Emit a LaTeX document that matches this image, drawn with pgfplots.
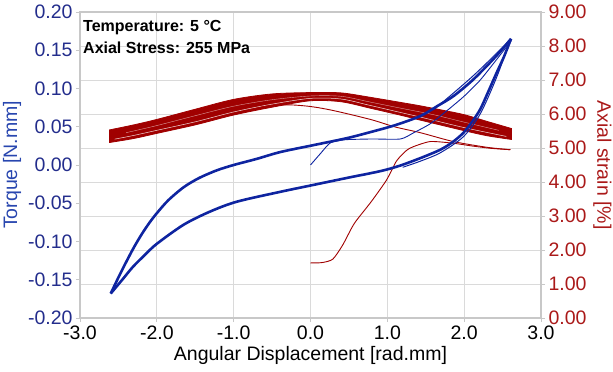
\documentclass[border=0pt]{standalone}
\usepackage{fontspec}
\setmainfont{Liberation Sans}
\usepackage{pgfplots}
\usepgfplotslibrary{fillbetween}
\pgfplotsset{compat=1.18}
\definecolor{cblue}{RGB}{14,36,160}
\definecolor{tblue}{RGB}{35,45,140}
\definecolor{lblue}{RGB}{40,70,175}
\definecolor{cred}{RGB}{160,0,0}
\definecolor{tred}{RGB}{170,25,25}
\definecolor{gridc}{RGB}{218,218,218}
\definecolor{spine}{RGB}{200,200,200}
\begin{document}
\begin{tikzpicture}
\pgfplotsset{
  base/.style={
    scale only axis, width=461pt, height=306pt,
    xmin=-3, xmax=3,
    font=\fontsize{19.5}{22}\selectfont,
    /pgf/number format/assume math mode=true,
    tick align=outside, major tick length=4pt,
    every tick/.style={spine, line width=0.8pt},
    axis line style={spine, line width=1.6pt},
    line join=round,
  }
}
% ---------- right axis (axial strain), grid, x axis ----------
\begin{axis}[base,
  ymin=0, ymax=9, ytick={0,1,...,9},
  xtick={-3,-2,...,3},
  xtick pos=bottom, ytick pos=right, yticklabel pos=right,
  grid=major, major grid style={gridc, line width=0.7pt},
  xticklabel style={black, /pgf/number format/.cd, fixed, fixed zerofill, precision=1},
  yticklabel style={tred, /pgf/number format/.cd, fixed, fixed zerofill, precision=2},
  xlabel={Angular Displacement [rad.mm]},
  ylabel={Axial strain [\%]}, ylabel near ticks,
  ylabel style={tred, rotate=180},
]
% band of cycles: upper and lower edges
\addplot[name path=U, cred, line width=0.8pt, smooth] coordinates {
(-2.62,5.53) (-2.30,5.68) (-2.00,5.84) (-1.50,6.14) (-1.00,6.43) (-0.50,6.59)
(0.00,6.63) (0.40,6.62) (0.78,6.49) (1.20,6.33) (1.43,6.24) (1.70,6.12)
(2.00,5.98) (2.30,5.78) (2.62,5.57)
};
\addplot[name path=L, cred, line width=0.8pt, smooth] coordinates {
(-2.62,5.16) (-2.30,5.28) (-2.00,5.43) (-1.50,5.68) (-1.00,5.97) (-0.50,6.20)
(0.00,6.39) (0.40,6.36) (0.78,6.17) (1.20,5.95) (1.43,5.82) (2.00,5.51)
(2.30,5.36) (2.62,5.25)
};
\addplot[cred] fill between[of=U and L];
% light streaks inside the band
\addplot[white, line width=0.5pt, opacity=0.85, smooth] coordinates {
(-2.55,5.26) (-2.30,5.37) (-2.00,5.52) (-1.50,5.77) (-1.00,6.06) (-0.50,6.29)
(0.00,6.46) (0.40,6.44) (0.78,6.25) (1.20,6.03) (1.43,5.91) (2.00,5.60) (2.55,5.34)
};
\addplot[white, line width=0.4pt, opacity=0.6, smooth] coordinates {
(-2.40,5.45) (-2.00,5.66) (-1.50,5.95) (-1.00,6.23) (-0.50,6.42)
(0.00,6.53) (0.40,6.52) (0.78,6.35) (1.20,6.16) (1.60,5.98) (2.00,5.76) (2.45,5.52)
};
% final branch below the band
\addplot[cred, line width=0.9pt, smooth] coordinates {
(-1.00,5.98) (-0.60,6.22) (-0.30,6.27) (0.00,6.22) (0.30,6.10) (0.78,5.84)
(1.10,5.62) (1.43,5.45) (1.86,5.19) (2.30,5.02) (2.60,4.95)
};
% initial loading branch
\addplot[cred, line width=0.9pt, smooth, tension=0.4] coordinates {
(0.00,1.62) (0.15,1.63) (0.29,1.73) (0.42,2.15) (0.57,2.78) (0.79,3.42)
(0.99,4.06) (1.12,4.62) (1.25,4.93) (1.34,5.04) (1.56,5.19) (1.86,5.14)
(2.10,5.06) (2.35,4.99) (2.60,4.95)
};
\end{axis}
% ---------- left axis (torque) ----------
\begin{axis}[base,
  ymin=-0.2, ymax=0.2, ytick={-0.2,-0.15,...,0.2},
  axis x line=none, axis y line*=left,
  yticklabel style={tblue, /pgf/number format/.cd, fixed, fixed zerofill, precision=2},
  ylabel={Torque [N.mm]}, ylabel style={lblue},
]
% hysteresis loop: loading branch
\addplot[cblue, line width=2.6pt, smooth] coordinates {
(-2.60,-0.168) (-2.50,-0.147) (-2.40,-0.127) (-2.30,-0.108) (-2.20,-0.091)
(-2.10,-0.076) (-2.00,-0.063) (-1.85,-0.046) (-1.65,-0.029) (-1.45,-0.017)
(-1.22,-0.007) (-1.00,0.000) (-0.70,0.008) (-0.39,0.017) (0.04,0.026)
(0.47,0.035) (0.78,0.043) (1.10,0.052) (1.43,0.064) (1.65,0.077)
(1.86,0.090) (2.10,0.110) (2.29,0.129) (2.45,0.146) (2.61,0.165)
};
% unloading branch
\addplot[cblue, line width=2.6pt, smooth] coordinates {
(2.61,0.165) (2.52,0.142) (2.42,0.120) (2.31,0.095) (2.21,0.073) (2.10,0.056)
(1.99,0.042) (1.85,0.030) (1.69,0.020) (1.43,0.009) (1.16,-0.001)
(0.91,-0.008) (0.47,-0.017) (0.04,-0.026) (-0.39,-0.035) (-0.96,-0.048)
(-1.31,-0.061) (-1.65,-0.078) (-2.00,-0.103) (-2.15,-0.117) (-2.31,-0.133)
(-2.45,-0.150) (-2.60,-0.168)
};
% extra cycle traces near the tip
\addplot[cblue, line width=1.0pt, smooth] coordinates {
(1.20,-0.003) (1.43,0.005) (1.69,0.016) (1.99,0.037) (2.21,0.067) (2.42,0.114) (2.58,0.158)
};
\addplot[cblue, line width=1.0pt, smooth] coordinates {
(1.60,0.072) (1.86,0.094) (2.10,0.115) (2.30,0.134) (2.58,0.162)
};
% initial loading branch
\addplot[cblue, line width=0.9pt, smooth, tension=0.4] coordinates {
(0.00,0.000) (0.13,0.015) (0.26,0.029) (0.45,0.033) (0.80,0.034) (1.17,0.034)
(1.34,0.042) (1.56,0.054) (1.80,0.073) (2.00,0.090) (2.20,0.110) (2.40,0.135)
(2.61,0.162)
};
\node[anchor=north west, align=left, inner sep=0pt,
      font=\bfseries\fontsize{16}{22}\selectfont]
  at ([xshift=3pt,yshift=-8pt]rel axis cs:0,1)
  {Temperature: 5 °C\\Axial Stress: 255 MPa};
\end{axis}
\pgfresetboundingbox
\useasboundingbox ([xshift=-80pt,yshift=-54pt]current axis.south west)
  rectangle ([xshift=72pt,yshift=12pt]current axis.north east);
\end{tikzpicture}
\end{document}
